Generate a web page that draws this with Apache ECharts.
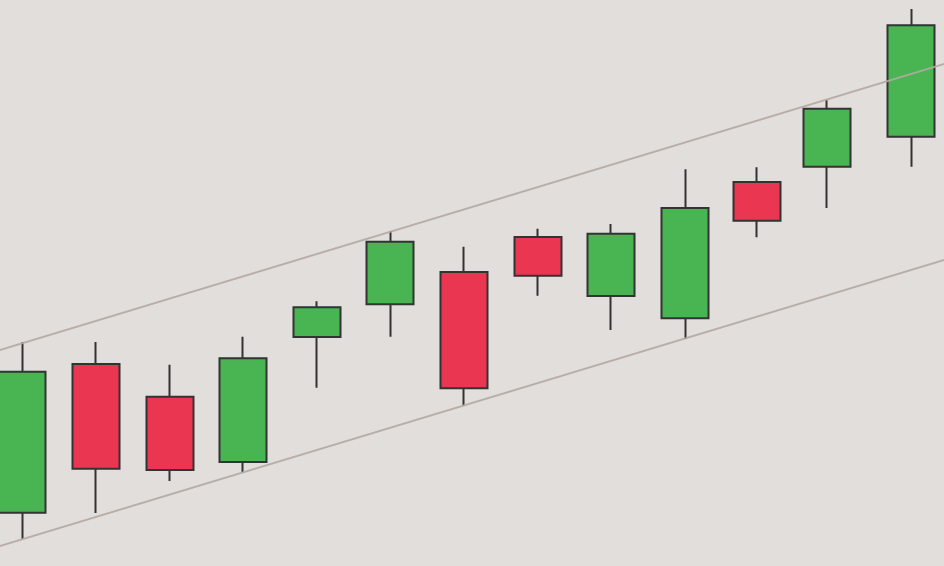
<!DOCTYPE html>
<html>
<head>
<meta charset="utf-8">
<script src="https://cdn.jsdelivr.net/npm/echarts@6/dist/echarts.min.js"></script>
<style>
html,body{margin:0;padding:0;background:#e1dedc;}
#c{width:944px;height:566px;}
</style>
</head>
<body>
<div id="c"></div>
<script>
// Candle positions along the time axis (candle units)
var positions = [0, 1, 2, 3, 4, 5, 6, 7, 8, 9.01, 9.98, 10.93, 12.08];
// Prices
var openVals  = [9.42, 35.69, 29.91, 18.37, 40.46, 46.24, 51.94, 58.13, 47.70, 43.76, 67.84, 70.55, 75.85];
var closeVals = [34.33, 17.19, 16.96, 36.70, 45.71, 57.30, 31.40, 51.29, 58.71, 63.25, 61.01, 80.80, 95.53];
var lowVals   = [4.77, 9.36, 15.02, 16.55, 31.50, 40.51, 28.32, 47.76, 41.70, 40.11, 58.07, 63.25, 70.55];
var highVals  = [39.58, 39.58, 35.57, 40.51, 46.77, 59.19, 56.41, 59.59, 60.42, 70.09, 70.44, 82.33, 98.41];
// Channel lines: [position, price]
var upperLine = [[-0.5, 37.39], [12.55, 88.80]];
var lowerLine = [[-0.5, 2.76], [12.55, 54.17]];

var ohlc = positions.map(function (x, i) {
  return [x, openVals[i], closeVals[i], lowVals[i], highVals[i]];
});

var chart = echarts.init(document.getElementById('c'), null, {renderer: 'canvas'});
chart.setOption({
  animation: false,
  backgroundColor: '#e1dedc',
  grid: {left: -14.4, width: 956.7, top: 0, height: 566, outerBoundsMode: 'none', containLabel: false},
  xAxis: {type: 'value', min: -0.5, max: 12.5, show: false},
  yAxis: {type: 'value', min: 0, max: 100, show: false},
  series: [
    {
      type: 'candlestick',
      data: ohlc,
      encode: {x: 0, y: [1, 2, 3, 4]},
      barWidth: 47.5,
      clip: false,
      itemStyle: {
        color: '#49b552',
        color0: '#eb3651',
        borderColor: '#333333',
        borderColor0: '#333333',
        borderWidth: 2
      },
      z: 2
    },
    {
      type: 'line',
      data: upperLine,
      symbol: 'none',
      clip: false,
      lineStyle: {color: 'rgba(180,169,161,0.9)', width: 1.8},
      z: 5
    },
    {
      type: 'line',
      data: lowerLine,
      symbol: 'none',
      clip: false,
      lineStyle: {color: 'rgba(180,169,161,0.9)', width: 1.8},
      z: 5
    }
  ]
});
</script>
</body>
</html>
